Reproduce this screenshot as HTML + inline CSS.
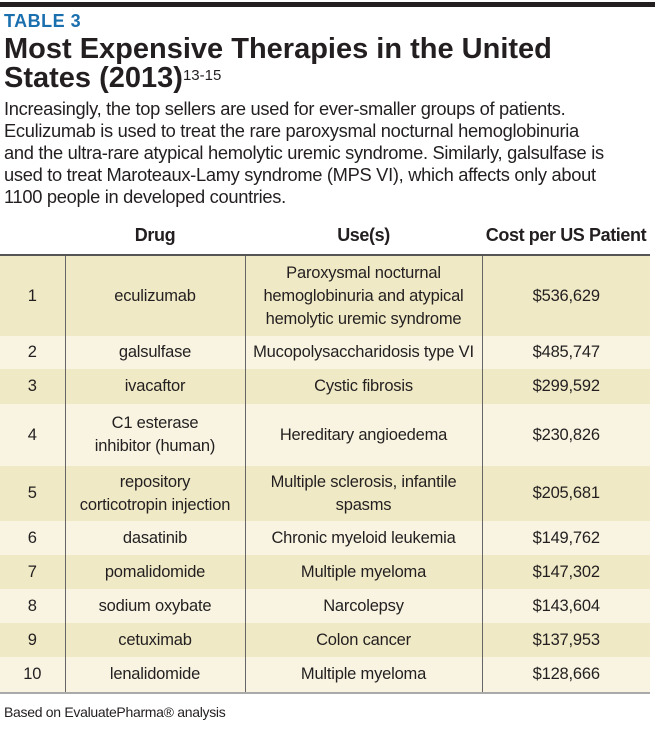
<!DOCTYPE html>
<html><head><meta charset="utf-8"><style>
body{margin:0;width:655px;height:736px;background:#fff;font-family:"Liberation Sans",sans-serif;color:#231f20;position:relative;overflow:hidden}
.bar{position:absolute;left:0;top:2px;width:655px;height:5px;background:#231f20}
.t3{position:absolute;left:4px;top:11px;font-weight:900;color:#1a6fae;font-size:18px;letter-spacing:0.5px}
.title{position:absolute;left:4px;top:35px;font-weight:bold;font-size:29px;line-height:29px;width:655px;white-space:nowrap}
.title sup{font-size:15px;font-weight:normal;vertical-align:top;position:relative;top:-3px}
.intro{position:absolute;left:4px;top:98px;font-size:18.3px;line-height:22px;white-space:nowrap;letter-spacing:-0.3px}
table{position:absolute;left:0;top:224px;width:650px;border-collapse:collapse;font-size:16.5px;line-height:23px;table-layout:fixed}
th{font-weight:bold;height:30px;padding:0;border-bottom:2px solid #555;vertical-align:top;font-size:18px;white-space:nowrap;letter-spacing:-0.4px}
td{text-align:center;padding:0;border-left:1px solid #666;white-space:nowrap;letter-spacing:-0.2px}
td:first-child{border-left:none}
tr.a td{background:#efe9c5}
tr.b td{background:#f8f4e1}
tr.last td{border-bottom:2px solid #aaa}
.foot{position:absolute;left:4px;top:704px;font-size:14px;letter-spacing:-0.3px}
</style></head><body>
<div class="bar"></div>
<div class="t3">TABLE 3</div>
<div class="title">Most Expensive Therapies in the United<br>States (2013)<sup>13-15</sup></div>
<div class="intro">Increasingly, the top sellers are used for ever-smaller groups of patients.<br>Eculizumab is used to treat the rare paroxysmal nocturnal hemoglobinuria<br>and the ultra-rare atypical hemolytic uremic syndrome. Similarly, galsulfase is<br>used to treat Maroteaux-Lamy syndrome (MPS VI), which affects only about<br>1100 people in developed countries.</div>
<table>
<colgroup><col style="width:65px"><col style="width:180px"><col style="width:237px"><col></colgroup>
<tr><th></th><th>Drug</th><th>Use(s)</th><th>Cost per US Patient</th></tr>
<tr class="a" style="height:81px"><td>1</td><td>eculizumab</td><td>Paroxysmal nocturnal<br>hemoglobinuria and atypical<br>hemolytic uremic syndrome</td><td>$536,629</td></tr>
<tr class="b" style="height:33px"><td>2</td><td>galsulfase</td><td>Mucopolysaccharidosis type VI</td><td>$485,747</td></tr>
<tr class="a" style="height:35px"><td>3</td><td>ivacaftor</td><td>Cystic fibrosis</td><td>$299,592</td></tr>
<tr class="b" style="height:62px"><td>4</td><td>C1 esterase<br>inhibitor (human)</td><td>Hereditary angioedema</td><td>$230,826</td></tr>
<tr class="a" style="height:55px"><td>5</td><td>repository<br>corticotropin injection</td><td>Multiple sclerosis, infantile<br>spasms</td><td>$205,681</td></tr>
<tr class="b" style="height:34px"><td>6</td><td>dasatinib</td><td>Chronic myeloid leukemia</td><td>$149,762</td></tr>
<tr class="a" style="height:34px"><td>7</td><td>pomalidomide</td><td>Multiple myeloma</td><td>$147,302</td></tr>
<tr class="b" style="height:34px"><td>8</td><td>sodium oxybate</td><td>Narcolepsy</td><td>$143,604</td></tr>
<tr class="a" style="height:34px"><td>9</td><td>cetuximab</td><td>Colon cancer</td><td>$137,953</td></tr>
<tr class="b last" style="height:36px"><td>10</td><td>lenalidomide</td><td>Multiple myeloma</td><td>$128,666</td></tr>
</table>
<div class="foot">Based on EvaluatePharma® analysis</div>
</body></html>
